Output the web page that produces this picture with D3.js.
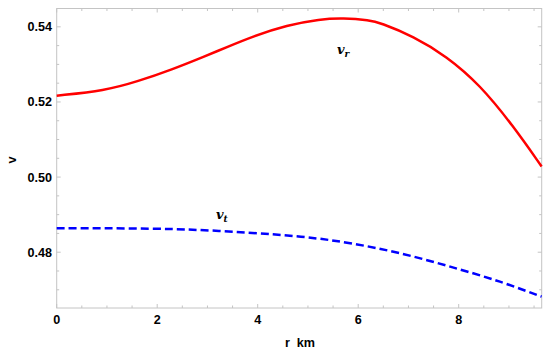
<!DOCTYPE html>
<html><head><meta charset="utf-8">
<script src="https://cdn.jsdelivr.net/npm/d3@7"></script>
<style>body{margin:0;background:#fff}</style>
</head><body>
<svg id="c" width="550" height="352"></svg>
<script>
const rValues = [0, 0.96, 1.62, 2.29, 2.95, 3.35, 3.91, 4.58, 5.24, 5.70, 6.23, 6.43, 7.10, 7.76, 8.42, 9.08, 9.65];
const vrValues = [0.52168, 0.5230, 0.5255, 0.52861, 0.53216, 0.5344, 0.5375, 0.54043, 0.54205, 0.54235, 0.54178, 0.5411, 0.5375, 0.53216, 0.52461, 0.5137, 0.50283];
const rtValues = [0, 2.62, 4.86, 5.84, 6.83, 7.83, 8.82, 9.65];
const vtValues = [0.4864, 0.48603, 0.48412, 0.4824, 0.47973, 0.47616, 0.47216, 0.46816];
const xTicks = [0, 2, 4, 6, 8];
const yTicks = [0.48, 0.50, 0.52, 0.54];

const svg = d3.select("#c");
const L = 56.7, R = 541.7, T = 8.5, B = 308;
const x = d3.scaleLinear().domain([0, 9.652]).range([L, R]);
const y = d3.scaleLinear().domain([0.46515, 0.54488]).range([B, T]);

const frameCol = "#c4c4c4";
svg.append("rect").attr("x", L).attr("y", T).attr("width", R - L).attr("height", B - T)
  .attr("fill", "none").attr("stroke", frameCol).attr("stroke-width", 1);

const xMinor = d3.range(0, 9.65, 0.5);
const yMinor = d3.range(0.465, 0.545, 0.005).filter(v => v >= 0.46515 && v <= 0.5448);
xMinor.forEach(v => {
  const major = Math.abs(v - Math.round(v / 2) * 2) < 1e-6;
  const len = major ? 4 : 2.5;
  svg.append("line").attr("x1", x(v)).attr("x2", x(v)).attr("y1", B).attr("y2", B - len).attr("stroke", frameCol);
  svg.append("line").attr("x1", x(v)).attr("x2", x(v)).attr("y1", T).attr("y2", T + len).attr("stroke", frameCol);
});
yMinor.forEach(v => {
  const major = Math.abs(v * 100 - Math.round(v * 50) * 2) < 1e-4;
  const len = major ? 4 : 2.5;
  svg.append("line").attr("x1", L).attr("x2", L + len).attr("y1", y(v)).attr("y2", y(v)).attr("stroke", frameCol);
  svg.append("line").attr("x1", R).attr("x2", R - len).attr("y1", y(v)).attr("y2", y(v)).attr("stroke", frameCol);
});

const font = "Liberation Sans, Arial, sans-serif";
const fs = 12.6;
xTicks.forEach(v => {
  svg.append("text").attr("x", x(v)).attr("y", 323.5).attr("text-anchor", "middle")
    .attr("font-family", font).attr("font-size", fs).attr("font-weight", "bold").text(d3.format("d")(v));
});
yTicks.forEach(v => {
  svg.append("text").attr("x", 52).attr("y", y(v) + 4.5).attr("text-anchor", "end")
    .attr("font-family", font).attr("font-size", fs).attr("font-weight", "bold").text(d3.format(".2f")(v));
});
svg.append("text").attr("x", 300).attr("y", 347).attr("text-anchor", "middle")
  .attr("font-family", font).attr("font-size", fs).attr("font-weight", "bold").attr("xml:space", "preserve").text("r  km");
svg.append("text").attr("transform", "translate(16,160) rotate(-90)").attr("text-anchor", "middle")
  .attr("font-family", font).attr("font-size", fs).attr("font-weight", "bold").text("v");

const line = d3.line().x(d => x(d[0])).y(d => y(d[1])).curve(d3.curveBasis);
svg.append("path").datum(rValues.map((r, i) => [r, vrValues[i]])).attr("d", line)
  .attr("fill", "none").attr("stroke", "#ff0000").attr("stroke-width", 2.5);
svg.append("path").datum(rtValues.map((r, i) => [r, vtValues[i]])).attr("d", line.curve(d3.curveCatmullRom.alpha(0.5)))
  .attr("fill", "none").attr("stroke", "#0000ff").attr("stroke-width", 2.5).attr("stroke-dasharray", "8,4");

function lab(px, py, sub) {
  const t = svg.append("text").attr("x", px).attr("y", py)
    .attr("font-family", "DejaVu Serif, serif").attr("font-size", 13).attr("font-style", "italic").attr("font-weight", "bold");
  t.append("tspan").text("v");
  t.append("tspan").attr("font-size", 9).attr("dy", 3).text(sub);
}
lab(337, 54, "r");
lab(216, 219, "t");
</script>
</body></html>
